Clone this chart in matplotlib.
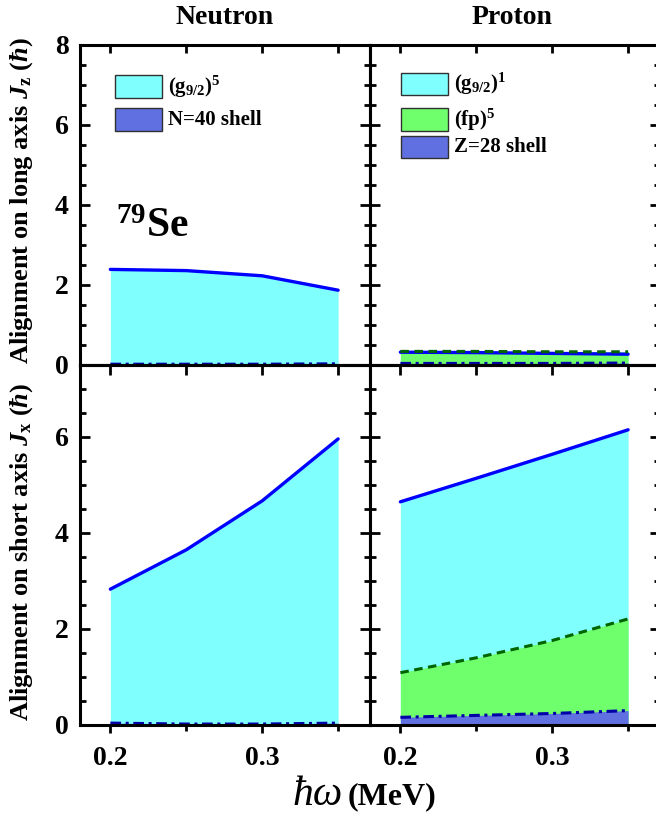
import matplotlib
matplotlib.use("Agg")
import matplotlib.pyplot as plt
from matplotlib.patches import Rectangle
from matplotlib.ticker import MultipleLocator

plt.rcParams['font.family'] = ['Liberation Serif', 'DejaVu Serif']
plt.rcParams['font.weight'] = 'bold'
plt.rcParams['mathtext.fontset'] = 'custom'
plt.rcParams['mathtext.rm'] = 'Liberation Serif:bold'
plt.rcParams['mathtext.bf'] = 'Liberation Serif:bold'
plt.rcParams['mathtext.it'] = 'Liberation Serif:italic:bold'

# rotational frequency (MeV)
omega = [0.20, 0.25, 0.30, 0.35]

# neutron alignments (cumulative)
n_jz_total = [2.39, 2.36, 2.23, 1.87]
n_jz_core = [0.02, 0.02, 0.02, 0.03]
n_jx_total = [2.83, 3.65, 4.67, 5.96]
n_jx_core = [0.04, 0.02, 0.02, 0.04]

# proton alignments (cumulative)
p_jz_total = [0.32, 0.31, 0.29, 0.27]
p_jz_fp = [0.34, 0.34, 0.33, 0.33]
p_jz_core = [0.04, 0.04, 0.04, 0.05]
p_jx_total = [4.65, 5.14, 5.64, 6.15]
p_jx_fp = [1.09, 1.40, 1.76, 2.21]
p_jx_core = [0.16, 0.20, 0.24, 0.30]

CYAN = '#80FFFF'
GREEN = '#70FF6C'
BLUEFILL = '#6070E0'
LINEBLUE = '#0000FF'
DKGREEN = '#006400'
NAVY = '#0000A8'

W, H = 656, 816
fig = plt.figure(figsize=(W / 100, H / 100), dpi=100)


def px_axes(x0, x1, y0, y1):
    return fig.add_axes([x0 / W, 1 - y1 / H, (x1 - x0) / W, (y1 - y0) / H])


ax_nz = px_axes(80, 370, 45, 365)
ax_pz = px_axes(370, 660, 45, 365)
ax_nx = px_axes(80, 370, 365, 725)
ax_px = px_axes(370, 660, 365, 725)


def style(ax, top_row, left_col):
    ax.set_xlim(0.18, 0.371)
    if top_row:
        ax.set_ylim(0, 8)
    else:
        ax.set_ylim(0, 7.5)
    for s in ax.spines.values():
        s.set_linewidth(2.2)
    ax.xaxis.set_major_locator(MultipleLocator(0.1))
    ax.xaxis.set_minor_locator(MultipleLocator(0.05))
    ax.yaxis.set_major_locator(MultipleLocator(2))
    ax.yaxis.set_minor_locator(MultipleLocator(0.5))
    ax.tick_params(axis='y', which='both', direction='in', left=True, right=True,
                   width=2, labelsize=20, pad=8, labelleft=left_col)
    ax.tick_params(axis='y', which='major', length=7)
    ax.tick_params(axis='y', which='minor', length=4)
    if top_row:
        ax.tick_params(axis='x', which='both', direction='in', top=True, bottom=False,
                       labelbottom=False, width=2, length=6)
    else:
        ax.tick_params(axis='x', which='both', direction='out', top=False, bottom=True,
                       width=2, labelsize=20, pad=9)
        ax.tick_params(axis='x', which='major', length=6)
        ax.tick_params(axis='x', which='minor', length=4)
        sec = ax.secondary_xaxis('top')
        sec.xaxis.set_major_locator(MultipleLocator(0.1))
        sec.xaxis.set_minor_locator(MultipleLocator(0.05))
        sec.tick_params(axis='x', which='both', direction='in', width=2, length=7,
                        labeltop=False)
        sec.spines['top'].set_linewidth(2.2)
    for lab in ax.get_xticklabels() + ax.get_yticklabels():
        lab.set_fontweight('bold')


def draw_neutron(ax, total, core):
    ax.fill_between(omega, 0, total, color=CYAN, lw=0)
    ax.fill_between(omega, 0, core, color=BLUEFILL, lw=0)
    ax.plot(omega, total, color=LINEBLUE, lw=2.4, solid_capstyle='round')
    ax.plot(omega, core, color=NAVY, lw=2.2, dashes=(3.5, 1.5, 1, 1.5))


def draw_proton(ax, total, fp, core):
    ax.fill_between(omega, 0, total, color=CYAN, lw=0)
    ax.fill_between(omega, 0, fp, color=GREEN, lw=0)
    ax.fill_between(omega, 0, core, color=BLUEFILL, lw=0)
    ax.plot(omega, total, color=LINEBLUE, lw=2.4, solid_capstyle='round')
    ax.plot(omega, fp, color=DKGREEN, lw=2.2, dashes=(2.8, 1.8))
    ax.plot(omega, core, color=NAVY, lw=2.2, dashes=(3.5, 1.5, 1, 1.5))


draw_neutron(ax_nz, n_jz_total, n_jz_core)
draw_neutron(ax_nx, n_jx_total, n_jx_core)
draw_proton(ax_pz, p_jz_total, p_jz_fp, p_jz_core)
draw_proton(ax_px, p_jx_total, p_jx_fp, p_jx_core)

style(ax_nz, True, True)
style(ax_pz, True, False)
style(ax_nx, False, True)
style(ax_px, False, False)


def legend_entry(ax, x0, x1, y0, y1, color, label):
    ax.add_patch(Rectangle((x0, y0), x1 - x0, y1 - y0, transform=ax.transAxes,
                           facecolor=color, edgecolor='#303030', lw=1.0, zorder=5))
    ax.text(x1 + 0.022, (y0 + y1) / 2, label, transform=ax.transAxes,
            fontsize=15, fontweight='bold', va='center', ha='left', zorder=5)


legend_entry(ax_nz, 0.121, 0.283, 0.834, 0.906, CYAN, r'(g$_{9/2}$)$^{5}$')
legend_entry(ax_nz, 0.121, 0.283, 0.731, 0.803, BLUEFILL, 'N=40 shell')
legend_entry(ax_pz, 0.107, 0.269, 0.844, 0.9125, CYAN, r'(g$_{9/2}$)$^{1}$')
legend_entry(ax_pz, 0.107, 0.269, 0.731, 0.803, GREEN, r'(fp)$^{5}$')
legend_entry(ax_pz, 0.107, 0.269, 0.647, 0.716, BLUEFILL, 'Z=28 shell')

ax_nz.text(0.125, 0.40, r'$^{79}$Se', transform=ax_nz.transAxes, fontsize=30,
           fontweight='bold', ha='left', va='baseline')

fig.text(225 / W, 1 - 18 / H, 'Neutron', fontsize=20, fontweight='bold', ha='center', va='center')
fig.text(512 / W, 1 - 18 / H, 'Proton', fontsize=20, fontweight='bold', ha='center', va='center')

fig.text(22 / W, 1 - 201 / H, r'Alignment on long axis $J_{\mathrm{z}}$ ($\hbar$)',
         rotation=90, fontsize=19, fontweight='bold', ha='center', va='center')
fig.text(22 / W, 1 - 552 / H, r'Alignment on short axis $J_{\mathrm{x}}$ ($\hbar$)',
         rotation=90, fontsize=19, fontweight='bold', ha='center', va='center')

fig.text(343 / W, 1 - 795 / H, 'ħω', fontsize=30, fontweight='normal', fontstyle='italic',
         ha='right', va='center')
fig.text(348 / W, 1 - 797 / H, '(MeV)', fontsize=23, fontweight='bold', ha='left', va='center')

fig.savefig('out.png', dpi=100)
